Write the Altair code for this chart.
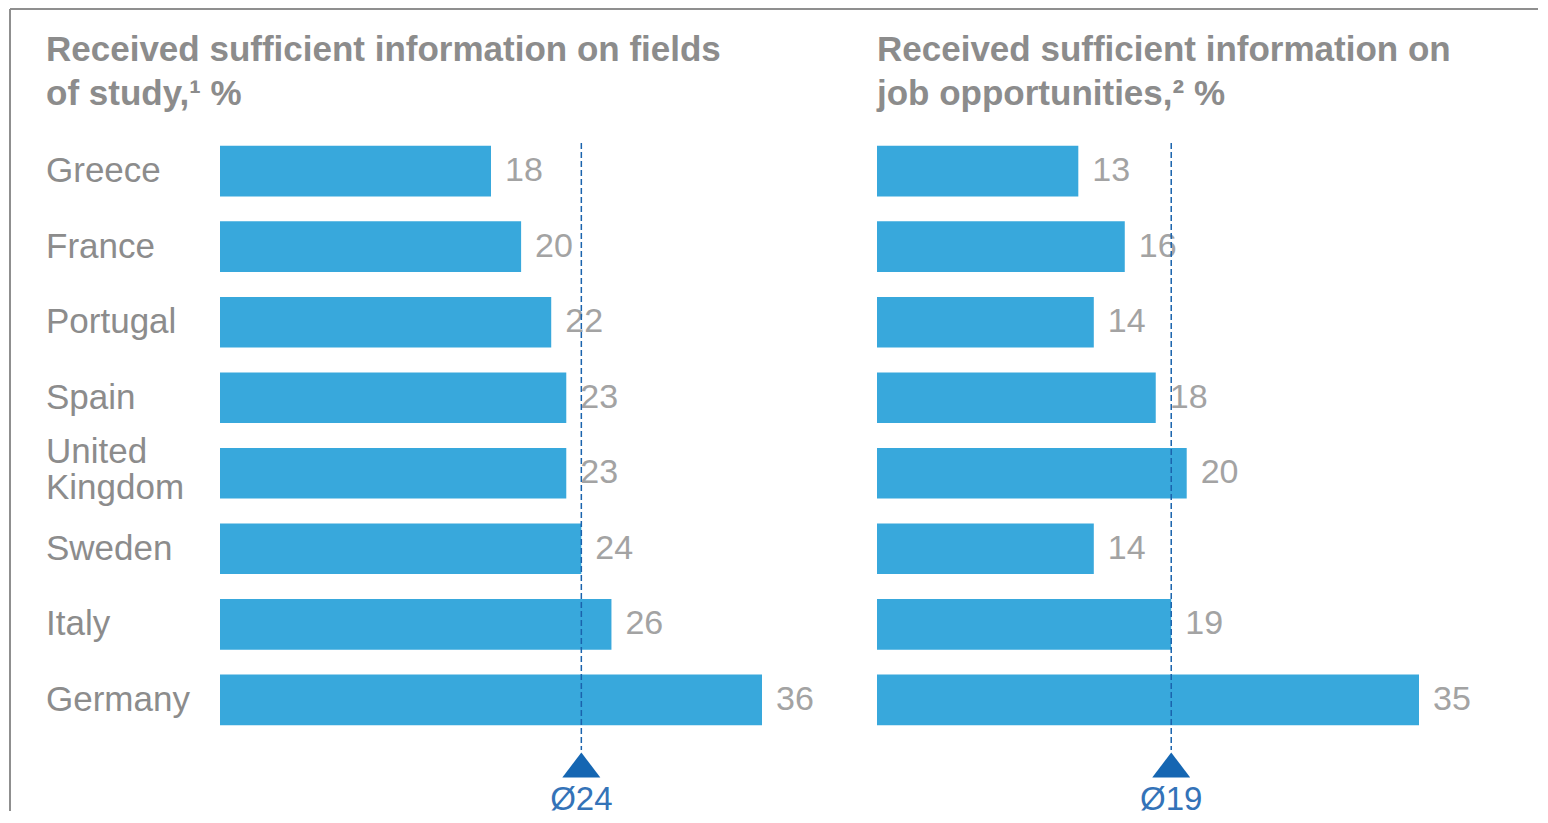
import altair as alt
import pandas as pd

countries = ["Greece", "France", "Portugal", "Spain", "United Kingdom", "Sweden", "Italy", "Germany"]
country_labels = ["Greece", "France", "Portugal", "Spain", "United\nKingdom", "Sweden", "Italy", "Germany"]
fields_values = [18, 20, 22, 23, 23, 24, 26, 36]
jobs_values = [13, 16, 14, 18, 20, 14, 19, 35]
fields_avg = 24
jobs_avg = 19
fields_title = ["Received sufficient information on fields", "of study,\u00b9 %"]
jobs_title = ["Received sufficient information on", "job opportunities,\u00b2 %"]

FONT = "Liberation Sans"
BAR = "#38a8dc"
DARK = "#1a63ad"
W, H = 542, 605


def panel(values, avg, title, dmax, first):
    df = pd.DataFrame({"country": countries, "label": country_labels, "value": values})
    da = pd.DataFrame({"avg": [avg], "lab": ["\u00d8" + str(avg)]})
    dt = pd.DataFrame({"line": title, "ypos": [-83, -39]})
    xs = alt.Scale(domain=[0, dmax], nice=False, zero=True)
    ys = alt.Scale(paddingInner=0.33, paddingOuter=0.17)
    base = alt.Chart(df).encode(
        y=alt.Y("country:N", sort=countries, axis=None, scale=ys)
    )
    bars = base.mark_bar(color=BAR).encode(
        x=alt.X("value:Q", axis=None, scale=xs)
    )
    vals = base.mark_text(
        align="left", baseline="middle", dx=14, fontSize=34, color="#a3a3a3", font=FONT
    ).encode(x=alt.X("value:Q", scale=xs), text="value:Q")
    rule = alt.Chart(da).mark_rule(
        color=DARK, strokeDash=[6, 3], strokeWidth=1.5
    ).encode(x=alt.X("avg:Q", scale=xs), y=alt.value(10), y2=alt.value(617))
    tri = alt.Chart(da).mark_point(
        shape="M-1,0.66L0,-0.66L1,0.66Z", size=1444, filled=True, color="#1566b2", opacity=1
    ).encode(x=alt.X("avg:Q", scale=xs), y=alt.value(632))
    lab = alt.Chart(da).mark_text(
        baseline="middle", fontSize=33, color="#3473b8", font=FONT
    ).encode(x=alt.X("avg:Q", scale=xs), y=alt.value(667), text="lab:N")
    ttl = alt.Chart(dt).mark_text(
        align="left", baseline="middle", fontSize=35, fontWeight="bold",
        color="#8c8c8c", font=FONT
    ).encode(x=alt.value(-174 if first else 0), y=alt.Y("ypos:Q", scale=None), text="line:N")
    layers = [bars, vals, rule, tri, lab, ttl]
    if first:
        names = base.transform_filter(
            "indexof(datum.label, '\\n') < 0"
        ).mark_text(
            align="left", baseline="middle", fontSize=35, color="#8c8c8c", font=FONT
        ).encode(x=alt.value(-174), text="label:N")
        names2 = base.transform_filter(
            "indexof(datum.label, '\\n') >= 0"
        ).mark_text(
            align="left", baseline="middle", lineBreak="\n", lineHeight=36, dy=-21,
            fontSize=35, color="#8c8c8c", font=FONT
        ).encode(x=alt.value(-174), text="label:N")
        vborder = alt.Chart(da).mark_rule(color="#8f8f8f", strokeWidth=2).encode(
            x=alt.value(-210), y=alt.value(-124), y2=alt.value(678)
        )
        hborder = alt.Chart(da).mark_rule(color="#8f8f8f", strokeWidth=2).encode(
            x=alt.value(-210), x2=alt.value(1318), y=alt.value(-124)
        )
        layers = [vborder, hborder, names, names2] + layers
    return alt.layer(*layers).properties(width=W, height=H)


chart = alt.hconcat(
    panel(fields_values, fields_avg, fields_title, 36, True),
    panel(jobs_values, jobs_avg, jobs_title, 35, False),
    spacing=115,
    bounds="flush",
).properties(
    padding={"left": 1, "top": 0, "right": 0, "bottom": 0}
).configure_view(stroke=None)

chart.save("out.html", embed_options={"renderer": "svg", "actions": False})
